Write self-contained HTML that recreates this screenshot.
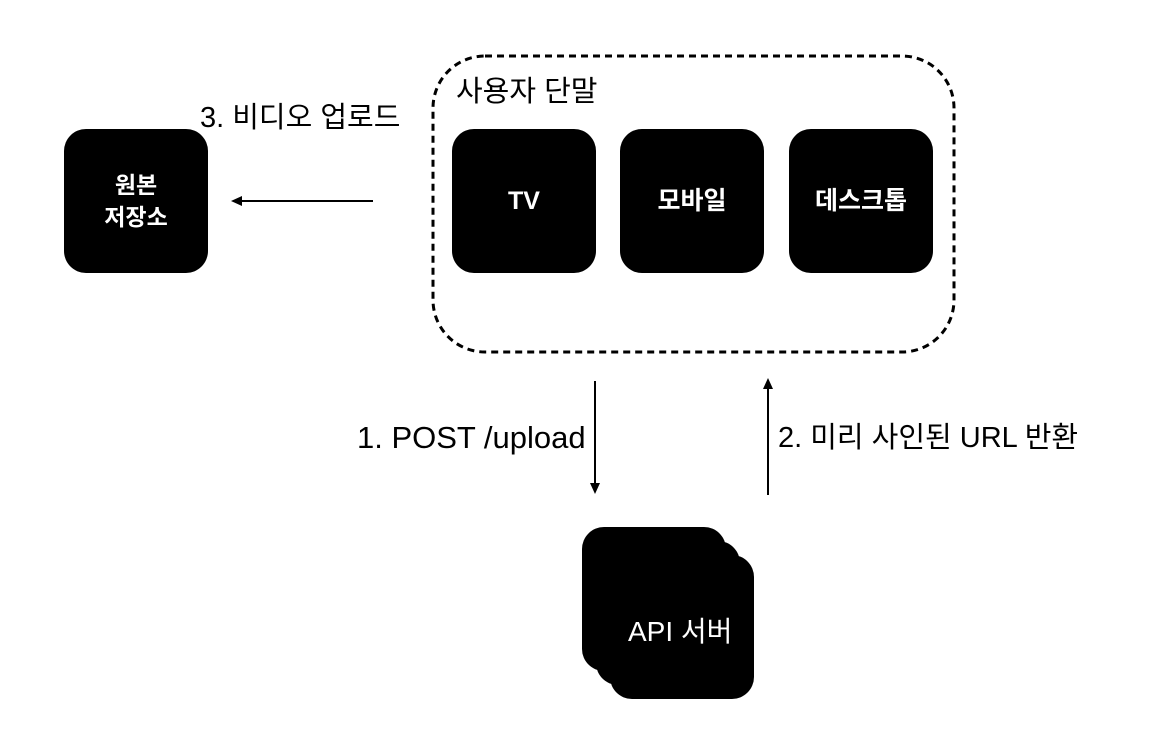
<!DOCTYPE html>
<html><head><meta charset="utf-8"><style>
body{margin:0;width:1160px;height:746px;background:#fff;overflow:hidden;font-family:"Liberation Sans","Noto Sans CJK KR",sans-serif}
.b{position:absolute;width:144px;height:144px;background:#000;border-radius:22px;color:#fff;display:flex;align-items:center;justify-content:center;text-align:center;font-size:25px;line-height:32px;font-weight:bold}
.t{position:absolute;font-size:29px;line-height:34px;color:#000;white-space:nowrap}
</style></head><body>
<svg width="1160" height="746" style="position:absolute;left:0;top:0">
<rect x="433" y="56" width="521" height="296" rx="52" fill="none" stroke="#000" stroke-width="3" stroke-dasharray="7,5"/>
<line x1="373" y1="201" x2="240" y2="201" stroke="#000" stroke-width="2"/>
<polygon points="231,201 242,196 242,206" fill="#000"/>
<line x1="595" y1="381" x2="595" y2="485" stroke="#000" stroke-width="2"/>
<polygon points="595,494 590,483 600,483" fill="#000"/>
<line x1="768" y1="495" x2="768" y2="388" stroke="#000" stroke-width="2"/>
<polygon points="768,378 763,389 773,389" fill="#000"/>
</svg>
<div class="b" style="left:64px;top:129px;font-size:23px">원본<br>저장소</div>
<div class="b" style="left:452px;top:129px">TV</div>
<div class="b" style="left:620px;top:129px">모바일</div>
<div class="b" style="left:789px;top:129px">데스크톱</div>
<div class="b" style="left:610px;top:555px"></div>
<div class="b" style="left:596px;top:541px"></div>
<div class="b" style="left:582px;top:527px"></div>
<div class="t" style="left:628px;top:615px;color:#fff;font-size:28px">API 서버</div>
<div class="t" style="left:456px;top:75px">사용자 단말</div>
<div class="t" style="left:200px;top:101px">3. 비디오 업로드</div>
<div class="t" style="left:357px;top:421px;font-size:31px">1. POST /upload</div>
<div class="t" style="left:778px;top:421px">2. 미리 사인된 URL 반환</div>
</body></html>
